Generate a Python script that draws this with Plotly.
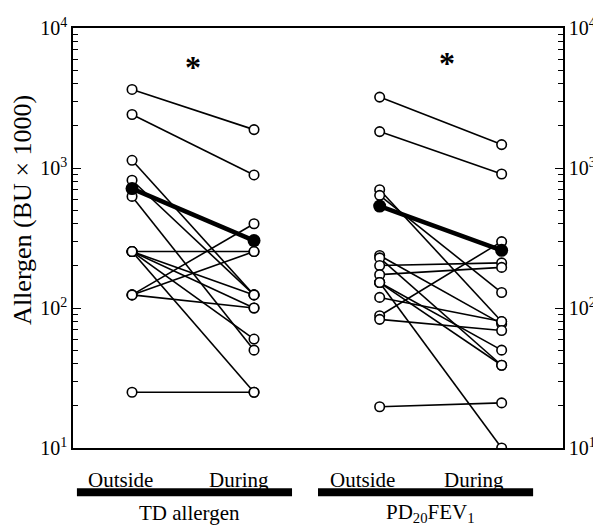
import math
import plotly.graph_objects as go

# ---- data ----
td_outside = [3640, 2410, 1135, 817, 627, 253, 253, 253, 253, 253, 124, 124, 124, 25]
td_during = [1880, 892, 124, 124, 50, 253, 124, 100, 60, 25, 400, 253, 100, 25]
td_mean = [713, 303]

pd_outside = [3210, 1820, 700, 638, 237, 228, 201, 173, 152, 152, 152, 119, 88, 83, 19.7]
pd_during = [1470, 906, 80, 129, 77, 39, 210, 195, 50, 39, 10, 80, 298, 69, 21]
pd_mean = [535, 258]

group_names = ["TD allergen", "PD<sub>20</sub>FEV<sub>1</sub>"]
period_labels = ["Outside", "During"]
y_title = "Allergen (BU × 1000)"
star_levels = [5300, 5600]
tick_vals = [10, 100, 1000, 10000]
tick_text = ["10<sup>1</sup>", "10<sup>2</sup>", "10<sup>3</sup>", "10<sup>4</sup>"]
minor_vals = [k * 10 ** d for d in (1, 2, 3) for k in range(2, 10)]

# layout positions (paper coords are relative to the plot area)
group_x = [(1.0, 2.0), (3.03, 4.03)]
label_px = [(0.096, 0.339), (0.590, 0.818)]
bar_spans = [(0.008, 0.447), (0.500, 0.939)]
star_x = [1.5, 3.58]

FONT = "Liberation Serif"

fig = go.Figure()

groups = [(td_outside, td_during, td_mean), (pd_outside, pd_during, pd_mean)]
for (outs, durs, mean), (x0, x1) in zip(groups, group_x):
    lx, ly = [], []
    for o, d in zip(outs, durs):
        lx += [x0, x1, None]
        ly += [o, d, None]
    fig.add_trace(go.Scatter(x=lx, y=ly, mode="lines",
                             line=dict(color="black", width=1.6),
                             hoverinfo="skip", showlegend=False))
    fig.add_trace(go.Scatter(x=[x0, x1], y=mean, mode="lines",
                             line=dict(color="black", width=4.5),
                             showlegend=False))
    mx = [x0] * len(outs) + [x1] * len(durs)
    my = list(outs) + list(durs)
    fig.add_trace(go.Scatter(x=mx, y=my, mode="markers",
                             marker=dict(symbol="circle", size=9.5, color="white",
                                         line=dict(color="black", width=1.6)),
                             showlegend=False))
    fig.add_trace(go.Scatter(x=[x0, x1], y=mean, mode="markers",
                             marker=dict(symbol="circle", size=13, color="black"),
                             showlegend=False))

# invisible trace to activate the right axis
fig.add_trace(go.Scatter(x=[group_x[0][0]], y=[td_mean[0]], yaxis="y2",
                         mode="markers", marker=dict(opacity=0),
                         hoverinfo="skip", showlegend=False))

yax = dict(type="log", range=[1, 4], tickvals=tick_vals, ticktext=tick_text,
           ticks="inside", ticklen=8, tickwidth=1.2, tickcolor="black",
           minor=dict(tickvals=minor_vals, ticks="inside", ticklen=5,
                      tickwidth=1.2, tickcolor="black", showgrid=False),
           showline=True, linecolor="black", linewidth=1.5,
           showgrid=False, zeroline=False,
           tickfont=dict(family=FONT, size=20, color="black"))

# The page body has an 8px default margin, so the figure is 8px smaller
# and the margins are shifted accordingly.
fig.update_layout(
    width=593, height=517,
    margin=dict(l=65, r=38, t=20, b=77, autoexpand=False),
    paper_bgcolor="white", plot_bgcolor="white",
    xaxis=dict(range=[0.516, 4.533], showticklabels=False, ticks="",
               showline=True, mirror=True, linecolor="black", linewidth=1.5,
               showgrid=False, zeroline=False),
    yaxis=dict(**yax),
    yaxis2=dict(**yax, overlaying="y", side="right"),
)

annotations = [dict(x=-0.102, y=0.567, xref="paper", yref="paper",
                    text=y_title, textangle=-90, showarrow=False,
                    xanchor="center", yanchor="middle",
                    font=dict(family=FONT, size=26, color="black"))]
shapes = []
for name, (p0, p1), (b0, b1), sx, sy in zip(group_names, label_px, bar_spans,
                                            star_x, star_levels):
    for lab, xx in zip(period_labels, (p0, p1)):
        annotations.append(dict(x=xx, y=-0.076, xref="paper", yref="paper",
                                text=lab, showarrow=False,
                                xanchor="center", yanchor="middle",
                                font=dict(family=FONT, size=21, color="black")))
    annotations.append(dict(x=(b0 + b1) / 2 + 0.01, y=-0.155, xref="paper",
                            yref="paper", text=name, showarrow=False,
                            xanchor="center", yanchor="middle",
                            font=dict(family=FONT, size=21, color="black")))
    # annotations on a log axis take log10 coordinates
    annotations.append(dict(x=sx, y=math.log10(sy), xref="x", yref="y",
                            text="<b>*</b>", showarrow=False,
                            xanchor="center", yanchor="middle",
                            font=dict(family=FONT, size=32, color="black")))
    shapes.append(dict(type="rect", xref="paper", yref="paper",
                       x0=b0, x1=b1, y0=-0.115, y1=-0.096,
                       fillcolor="black", line=dict(width=0)))

fig.update_layout(annotations=annotations, shapes=shapes)

fig.write_html("out.html")
